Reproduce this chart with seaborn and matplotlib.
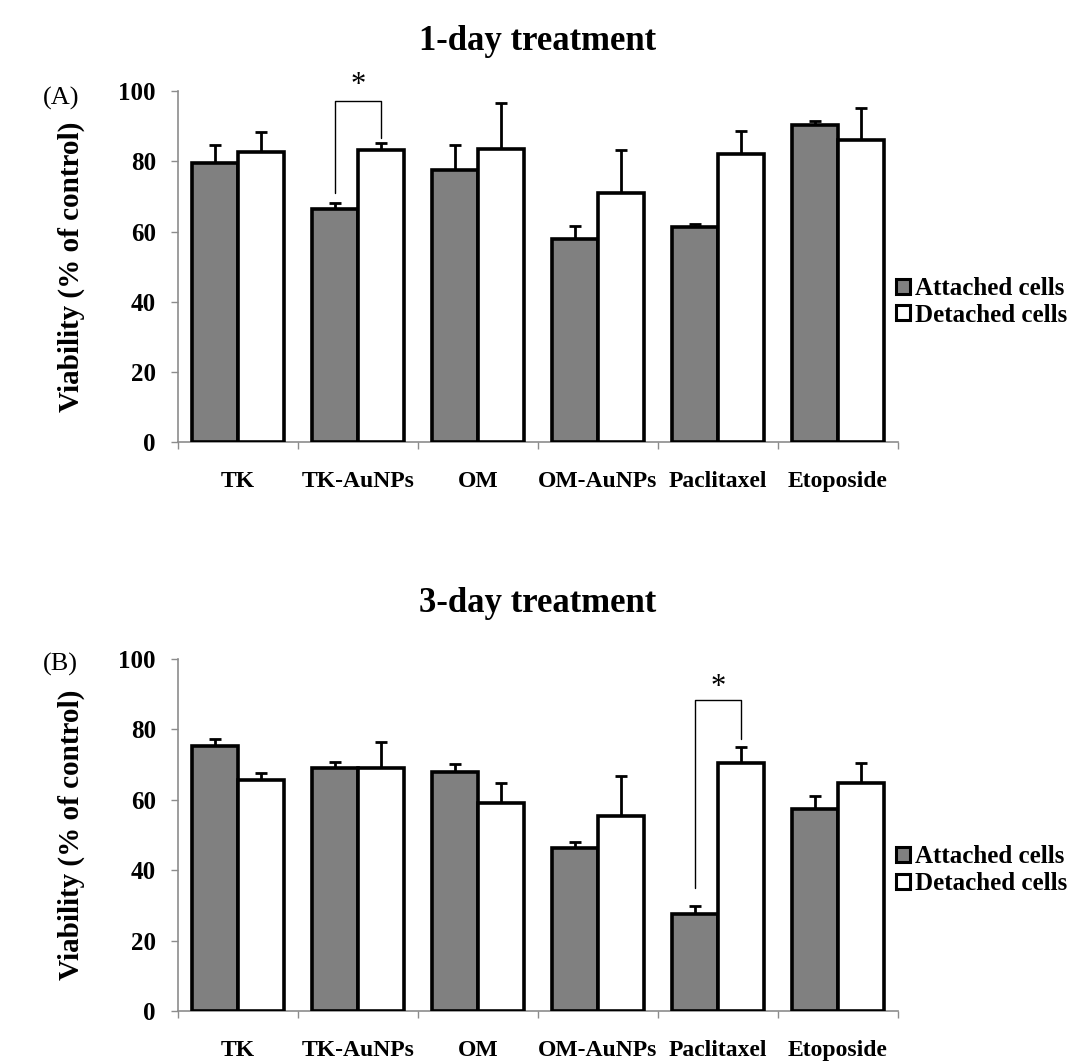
import numpy as np
import pandas as pd
import matplotlib
matplotlib.use("Agg")
import matplotlib.pyplot as plt
import seaborn as sns

categories = ["TK", "TK-AuNPs", "OM", "OM-AuNPs", "Paclitaxel", "Etoposide"]
series = ["Attached cells", "Detached cells"]

day1_attached = [79.5, 66.3, 77.5, 58.0, 61.2, 90.3]
day1_attached_err = [5.1, 1.8, 7.1, 3.7, 0.9, 1.2]
day1_detached = [82.5, 83.2, 83.6, 70.9, 82.0, 86.0]
day1_detached_err = [5.7, 2.1, 13.0, 12.2, 6.6, 9.1]

day3_attached = [75.3, 69.0, 67.9, 46.4, 27.5, 57.4]
day3_attached_err = [2.1, 1.7, 2.2, 1.7, 2.4, 3.6]
day3_detached = [65.6, 68.9, 59.2, 55.4, 70.5, 64.8]
day3_detached_err = [2.1, 7.6, 5.7, 11.5, 4.6, 5.7]

titles = ["1-day treatment", "3-day treatment"]
panel_labels = ["(A)", "(B)"]
y_label = "Viability (% of control)"
y_ticks = [0, 20, 40, 60, 80, 100]

sns.set_theme(style="white")
plt.rcParams["font.family"] = ["Liberation Serif", "DejaVu Serif"]
plt.rcParams["text.color"] = "black"
plt.rcParams["axes.labelcolor"] = "black"
plt.rcParams["xtick.labelcolor"] = "black"
plt.rcParams["ytick.labelcolor"] = "black"

W, H = 1077, 1062
fig = plt.figure(figsize=(W / 100, H / 100), dpi=100)

GRAY = "#8c8c8c"
palette = {"Attached cells": "#808080", "Detached cells": "#ffffff"}

panels = [
    dict(att=day1_attached, atte=day1_attached_err, det=day1_detached, dete=day1_detached_err,
         top=91, bot=442.3, title_y=42, lab_y=98, sig=1,
         sig_y=(70.9, 97.2, 86.5), star_y=101.7),
    dict(att=day3_attached, atte=day3_attached_err, det=day3_detached, dete=day3_detached_err,
         top=659, bot=1011, title_y=603, lab_y=664, sig=4,
         sig_y=(34.9, 88.3, 77.3), star_y=91.8),
]

left_px, right_px = 178, 898

for i, p in enumerate(panels):
    ax = fig.add_axes([left_px / W, 1 - p["bot"] / H, (right_px - left_px) / W, (p["bot"] - p["top"]) / H])
    df = pd.DataFrame({
        "category": categories * 2,
        "series": [series[0]] * 6 + [series[1]] * 6,
        "value": list(p["att"]) + list(p["det"]),
    })
    sns.barplot(data=df, x="category", y="value", hue="series", order=categories,
                hue_order=series, palette=palette, saturation=1, width=0.76,
                edgecolor="black", linewidth=2.6, errorbar=None, ax=ax, zorder=3)
    errs = [p["atte"], p["dete"]]
    centers = []
    for cont, e in zip(ax.containers, errs):
        xs = [b.get_x() + b.get_width() / 2 for b in cont]
        hs = [b.get_height() for b in cont]
        centers.append(xs)
        ax.errorbar(xs, hs, yerr=[np.zeros(len(e)), e], fmt="none", ecolor="black",
                    elinewidth=2.0, capsize=4, capthick=2.0, zorder=2, clip_on=False)

    ax.set_ylim(0, 100)
    ax.set_xlim(-0.5, 5.5)
    ax.set_yticks(y_ticks)
    ax.set_yticklabels([str(t) for t in y_ticks], fontsize=18, fontweight="bold", color="black")
    ax.set_xticks(np.arange(-0.5, 6.0, 1.0))
    ax.set_xticklabels([])
    ax.set_xticks(np.arange(6), minor=True)
    ax.set_xticklabels(categories, minor=True, fontsize=17, fontweight="bold", color="black")
    ax.tick_params(axis="x", which="major", direction="out", length=5, width=1, color=GRAY, bottom=True)
    ax.tick_params(axis="x", which="minor", length=0, pad=21)
    ax.tick_params(axis="y", direction="out", length=5, width=1, color=GRAY, left=True, pad=11)
    for s in ["top", "right"]:
        ax.spines[s].set_visible(False)
    for s in ["left", "bottom"]:
        ax.spines[s].set_color(GRAY)
        ax.spines[s].set_linewidth(1.2)
    ax.set_xlabel("")
    ax.set_ylabel(y_label, fontsize=21, fontweight="bold", color="black")
    ax.yaxis.set_label_coords((85 - left_px) / (right_px - left_px), 0.5)

    # legend
    handles = [plt.Rectangle((0, 0), 1, 1, facecolor=palette[s], edgecolor="black", linewidth=2.2) for s in series]
    leg = ax.legend(handles, series, loc="center left", bbox_to_anchor=(0.997, 0.40),
                    frameon=False, handlelength=0.55, handleheight=0.55, handletextpad=0.2,
                    labelspacing=0.15, borderpad=0, borderaxespad=0,
                    prop={"family": "Liberation Serif", "weight": "bold", "size": 18})
    for t in leg.get_texts():
        t.set_color("black")

    # significance bracket
    k = p["sig"]
    xl, xr = centers[0][k], centers[1][k]
    y0, ytop, y1 = p["sig_y"]
    ax.plot([xl, xl, xr, xr], [y0, ytop, ytop, y1], color="black", lw=1.0, clip_on=False, zorder=4)
    ax.text((xl + xr) / 2, p["star_y"], "*", ha="center", va="center", fontsize=22,
            color="black", clip_on=False)

    fig.text(538 / W, 1 - p["title_y"] / H, titles[i], ha="center", va="center",
             fontsize=25, fontweight="bold", color="black")
    fig.text(43 / W, 1 - p["lab_y"] / H, panel_labels[i], ha="left", va="center",
             fontsize=19, color="black")

fig.savefig("out.png", dpi=100, facecolor="white")
